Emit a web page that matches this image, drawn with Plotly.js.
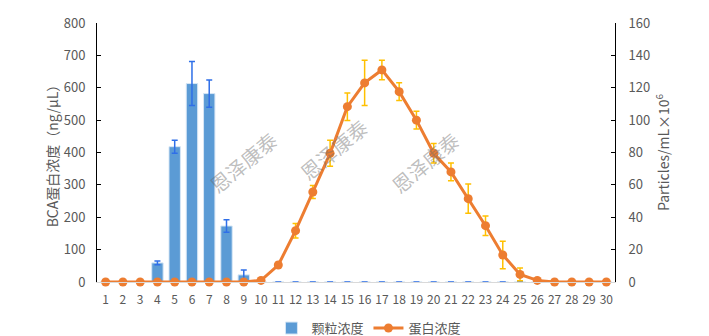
<!DOCTYPE html>
<html>
<head>
<meta charset="utf-8">
<script src="https://cdn.plot.ly/plotly-3.0.1.min.js"></script>
<style>html,body{margin:0;padding:0;background:#fff;}#chart{width:709px;height:336px;}</style>
</head>
<body>
<div id="chart"></div>
<script>
const fractions = [1,2,3,4,5,6,7,8,9,10,11,12,13,14,15,16,17,18,19,20,21,22,23,24,25,26,27,28,29,30];
const barValues = [0,0,0,59,418,613,582,173,22,0,0,0,0,0,0,0,0,0,0,0,0,0,0,0,0,0,0,0,0,0];
const barErrors = [0,0,0,6,20,68,42,19,15,0,0,0,0,0,0,0,0,0,0,0,0,0,0,0,0,0,0,0,0,0];
const lineValues = [0,0,0,0,0,0,0,0,0,1,10.5,31.7,55.6,79.5,108.3,123,131,117.6,100,79.5,68,51.5,34.8,16.7,4.7,1,0,0,0,0];
const lineErrors = [0,0,0,0,0,0,0,0,0,0.5,1.5,4.5,4,8,8.5,14,6,5.5,5.5,6,5.5,9,6,8.5,4,1,0,0,0,0];
const seriesNames = ['颗粒浓度','蛋白浓度'];
const leftTitle = 'BCA蛋白浓度（ng/μL）';
const rightTitle = 'Particles/mL×10<sup>6</sup>';
const watermark = '恩泽康泰';

const FONT = '"Noto Sans CJK SC", "Noto Sans", sans-serif';
const GREY = '#595959';

const traces = [
  {
    type: 'bar', x: fractions, y: barValues, name: seriesNames[0], yaxis: 'y',
    width: 0.66,
    marker: {color: '#5B9BD5', line: {color: '#D6E6F5', width: 1}},
    error_y: {type: 'data', array: barErrors, visible: true, color: '#2F6FE8', thickness: 1.5, width: 3}
  },
  {
    type: 'scatter', mode: 'lines+markers', x: fractions, y: lineValues, name: seriesNames[1], yaxis: 'y2',
    line: {color: '#ED7D31', width: 3},
    marker: {color: '#ED7D31', size: 9},
    cliponaxis: false,
    error_y: {type: 'data', array: lineErrors, visible: true, color: '#FFC000', thickness: 1.5, width: 3}
  }
];

const wm = [[0.199,0.463],[0.4575,0.51],[0.716,0.463]].map(p => ({
  xref: 'paper', yref: 'paper', x: p[0], y: p[1], text: watermark, showarrow: false,
  textangle: -40, font: {family: FONT, size: 20, color: 'rgba(110,110,110,0.45)'}
}));

const layout = {
  width: 709, height: 336,
  margin: {l: 97, r: 94, t: 23, b: 54, autoexpand: false},
  paper_bgcolor: '#fff', plot_bgcolor: '#fff',
  font: {family: FONT, size: 12, color: GREY},
  showlegend: true,
  legend: {orientation: 'h', x: 0.525, xanchor: 'center', y: -0.178, yanchor: 'middle',
           font: {family: FONT, size: 13, color: GREY}, tracegroupgap: 0},
  bargap: 0.34,
  xaxis: {
    range: [0.5, 30.5], tickmode: 'linear', tick0: 1, dtick: 1,
    showline: true, linecolor: '#D9D9D9', linewidth: 1, ticks: '', showgrid: false, zeroline: false,
    tickfont: {family: FONT, size: 12, color: GREY}, automargin: false, ticklabelstandoff: 7
  },
  yaxis: {
    range: [0, 800], dtick: 100, showline: true, linecolor: '#000', linewidth: 1,
    ticks: 'inside', ticklen: 4, tickcolor: '#000', showgrid: false, zeroline: false,
    tickfont: {family: FONT, size: 13, color: GREY}, automargin: false, ticklabelstandoff: 8,
    title: {text: leftTitle, font: {family: FONT, size: 14, color: GREY}}
  },
  yaxis2: {
    range: [0, 160], dtick: 20, overlaying: 'y', side: 'right', showline: true, linecolor: '#000', linewidth: 1,
    ticks: 'inside', ticklen: 4, tickcolor: '#000', showgrid: false, zeroline: false,
    tickfont: {family: FONT, size: 13, color: GREY}, automargin: false, ticklabelstandoff: 10,
    title: {text: rightTitle, font: {family: FONT, size: 14, color: GREY}}
  },
  annotations: wm
};

Plotly.newPlot('chart', traces, layout, {displayModeBar: false, staticPlot: true});
</script>
</body>
</html>
